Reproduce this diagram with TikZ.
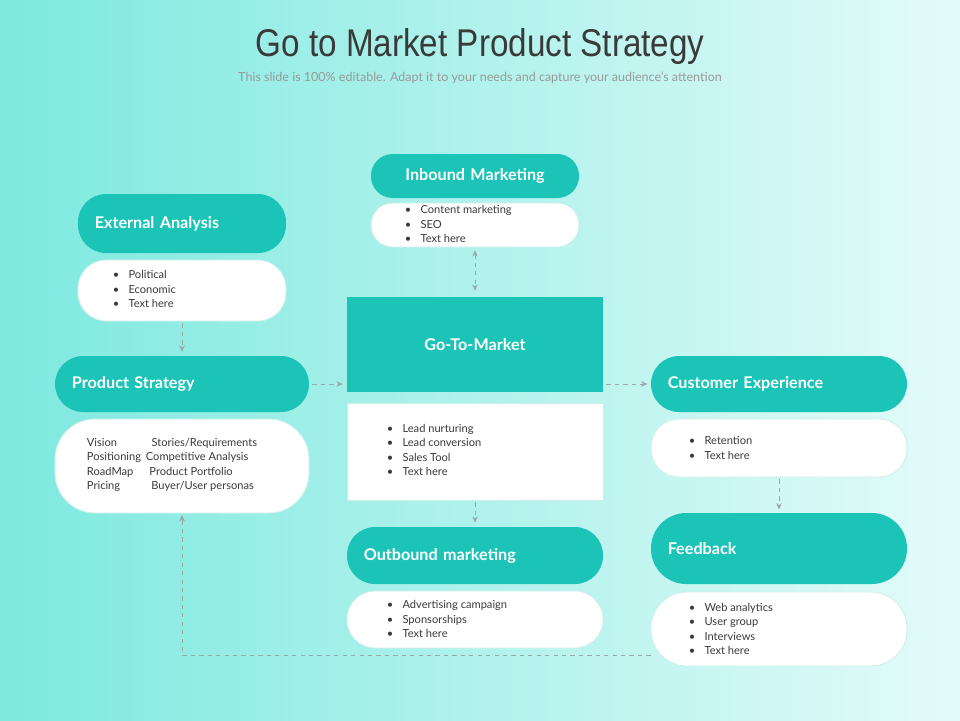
\documentclass[tikz,border=0pt]{standalone}
\usepackage{fontspec}
\setmainfont{Lato}
\newfontfamily\titlefont{Liberation Sans}
\usetikzlibrary{arrows.meta}
\definecolor{teal1}{HTML}{1CC4B8}
\definecolor{bgl}{HTML}{7DE9DF}
\definecolor{bgr}{HTML}{E4FBF9}
\definecolor{edge}{HTML}{CDEFEC}
\definecolor{txt}{HTML}{3A3A3A}
\definecolor{dash}{HTML}{9AA8A8}
\tikzset{
  head/.style={fill=teal1, rounded corners=7mm, text=white, font=\bfseries\fontsize{11.5}{13}\selectfont,
    inner xsep=4.2mm, align=left},
  body/.style={fill=white, draw=edge, line width=0.6pt, rounded corners=7mm},
  btxt/.style={anchor=west, text=txt, align=left, font=\fontsize{7.9}{10.2}\selectfont},
  link/.style={draw=dash, dashed, line width=0.5pt, -{Stealth[length=1.6mm,width=1.4mm]}}
}
\newcommand{\bl}{\makebox[3.9mm][l]{\textbullet}}
\begin{document}
\begin{tikzpicture}[x=0.25mm,y=-0.25mm]
\shade[left color=bgl, right color=bgr] (0,0) rectangle (960,720);
\useasboundingbox (0,0) rectangle (960,720);
% title
\node (title) at (480,46) {\titlefont\fontsize{27.5}{30}\selectfont\color{txt}\scalebox{0.86}[1]{Go to Market Product Strategy}};
\node (sub) at (480,78) {\fontsize{8.9}{10}\selectfont\color{black!40}This slide is 100\% editable. Adapt it to your needs and capture your audience's attention};
% boxes
\node[body, minimum width=52mm, minimum height=15.25mm] (extb) at (182,290.5) {};
\node[head, minimum width=52mm, minimum height=14.75mm, text width=43.6mm] (ext) at (182,223.5) {External Analysis};
\node[body, minimum width=52mm, minimum height=11mm, rounded corners=5.4mm] (inbb) at (475,225) {};
\node[head, minimum width=52mm, minimum height=11mm, rounded corners=5.4mm, align=center, text width=43.6mm] (inb) at (475,176) {Inbound Marketing};
\node[fill=teal1, text=white, font=\bfseries\fontsize{11.5}{13}\selectfont, minimum width=64mm, minimum height=23.75mm] (gtm) at (475,344.5) {Go-To-Market};
\node[fill=white, draw=edge, minimum width=64mm, minimum height=24.25mm] (gtmb) at (475,451.5) {};
\node[body, minimum width=63.5mm, minimum height=23.5mm, rounded corners=10mm] (psb) at (182,466) {};
\node[head, minimum width=63.5mm, minimum height=14mm, text width=55mm] (ps) at (182,384) {Product Strategy};
\node[body, minimum width=64mm, minimum height=14.5mm] (ceb) at (779,448) {};
\node[head, minimum width=64mm, minimum height=14mm, text width=55.6mm] (ce) at (779,384) {Customer Experience};
\node[body, minimum width=64mm, minimum height=18.5mm, rounded corners=9mm] (fbb) at (779,629) {};
\node[head, minimum width=64mm, minimum height=17.75mm, rounded corners=8.8mm, text width=55.6mm] (fb) at (779,548.5) {Feedback};
\node[body, minimum width=64mm, minimum height=14.25mm] (obb) at (475,619.5) {};
\node[head, minimum width=64mm, minimum height=14.25mm, text width=55.6mm] (ob) at (475,555.5) {Outbound marketing};
% texts
\node[btxt] (extt) at (108,289) {\bl Political\\\bl Economic\\\bl Text here};
\node[btxt] (inbt) at (400,224) {\bl Content marketing\\\bl SEO\\\bl Text here};
\node[btxt] (gtmt) at (382,450) {\bl Lead nurturing\\\bl Lead conversion\\\bl Sales Tool\\\bl Text here};
\node[btxt] (pst) at (82,465) {Vision\hspace{8.6mm}Stories/Requirements\\Positioning\hspace{1.2mm}Competitive Analysis\\RoadMap\hspace{4mm}Product Portfolio\\Pricing\hspace{7.8mm}Buyer/User personas};
\node[btxt] (cet) at (684,448) {\bl Retention\\\bl Text here};
\node[btxt] (fbt) at (684,629) {\bl Web analytics\\\bl User group\\\bl Interviews\\\bl Text here};
\node[btxt] (obt) at (382,619) {\bl Advertising campaign\\\bl Sponsorships\\\bl Text here};
% links
\draw[link] ([yshift=-0.5mm]extb.south) -- ([yshift=1mm]ps.north);
\draw[link, {Stealth[length=1.6mm,width=1.4mm]}-{Stealth[length=1.6mm,width=1.4mm]}] ([yshift=-0.7mm]inbb.south) -- ([yshift=1.5mm]gtm.north);
\draw[link] ([xshift=0.8mm]ps.east) -- ([xshift=-1mm]ps.east -| gtm.west);
\draw[link] ([xshift=0.8mm]ce.west -| gtm.east) -- ([xshift=-0.8mm]ce.west);
\draw[link] ([yshift=-0.5mm]ceb.south) -- ([yshift=0.8mm]fb.north);
\draw[link] ([yshift=-0.5mm]gtmb.south) -- ([yshift=1mm]ob.north);
\coordinate (loop) at (182,655);
\draw[link] (fbb.west |- loop) -- (loop) -- ([yshift=-0.4mm]psb.south);
\end{tikzpicture}
\end{document}
